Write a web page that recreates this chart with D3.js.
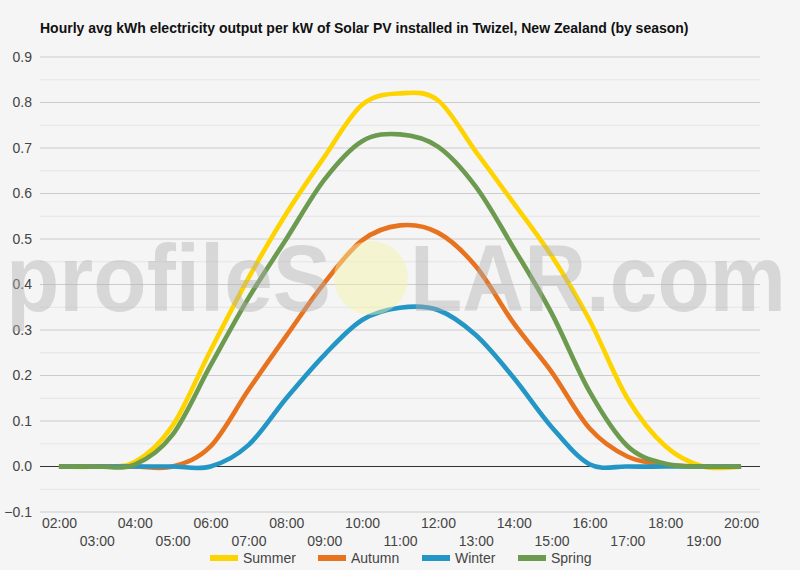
<!DOCTYPE html>
<html><head><meta charset="utf-8">
<script src="https://cdn.jsdelivr.net/npm/d3@7"></script>
<style>
html,body{margin:0;padding:0;background:#f5f5f5;}
svg{display:block;font-family:Arial,"Liberation Sans",sans-serif;}
</style></head>
<body><div id="chart"></div>
<script>
const title = "Hourly avg kWh electricity output per kW of Solar PV installed in Twizel, New Zealand (by season)";
const hours = ["02:00","03:00","04:00","05:00","06:00","07:00","08:00","09:00","10:00","11:00","12:00","13:00","14:00","15:00","16:00","17:00","18:00","19:00","20:00"];
const seriesNames = ["Summer","Autumn","Winter","Spring"];
const seriesColors = ["#fdd300","#e8731f","#2396c6","#6c9a4f"];
const summer = [0,0,0.01,0.09,0.255,0.414,0.556,0.68,0.795,0.82,0.805,0.692,0.579,0.463,0.322,0.15,0.045,0,0];
const autumn = [0,0,0,0,0.044,0.168,0.287,0.403,0.497,0.53,0.514,0.44,0.315,0.208,0.084,0.022,0.004,0,0];
const winter = [0,0,0,0,0,0.047,0.15,0.245,0.322,0.349,0.344,0.289,0.195,0.087,0.005,0,0,0,0];
const spring = [0,0,0.004,0.07,0.222,0.37,0.50,0.63,0.715,0.73,0.703,0.615,0.48,0.337,0.165,0.045,0.006,0,0];
const yTicks = [-0.1,0,0.1,0.2,0.3,0.4,0.5,0.6,0.7,0.8,0.9];
const yMinorTicks = [-0.05,0.05,0.15,0.25,0.35,0.45,0.55,0.65,0.75,0.85];

const W = 800, H = 570;
const svg = d3.select("#chart").append("svg").attr("width", W).attr("height", H);
svg.append("rect").attr("width", W).attr("height", H).attr("fill", "#f5f5f5");

const x = d3.scalePoint().domain(hours).range([40, 760]).padding(0.5);
const y = d3.scaleLinear().domain([-0.1, 0.9]).range([512, 57]);

svg.append("text").attr("x", 40).attr("y", 33).attr("font-size", 14).attr("font-weight", "bold")
  .attr("fill", "#111").text(title);

// grid
const g = svg.append("g");
g.selectAll("line.minor").data(yMinorTicks).join("line").attr("class","minor")
  .attr("x1", 40).attr("x2", 760).attr("y1", d => y(d)).attr("y2", d => y(d))
  .attr("stroke", "#e4e4e4").attr("stroke-width", 1);
g.selectAll("line.major").data(yTicks.filter(d => d !== 0)).join("line").attr("class","major")
  .attr("x1", 40).attr("x2", 760).attr("y1", d => y(d)).attr("y2", d => y(d))
  .attr("stroke", "#cccccc").attr("stroke-width", 1);

// y axis labels
const yAxis = d3.axisLeft(y).tickValues(yTicks).tickFormat(d3.format(".1f")).tickSize(0).tickPadding(8);
const ya = svg.append("g").attr("transform", "translate(40,0)").call(yAxis);
ya.select(".domain").remove();
ya.selectAll("text").attr("font-size", 14).attr("fill", "#444").attr("font-family", "Arial,'Liberation Sans',sans-serif");

// x axis labels (two rows)
const xAxis = d3.axisBottom(x).tickSize(0).tickPadding(0);
const xa = svg.append("g").attr("transform", "translate(0,512)").call(xAxis);
xa.select(".domain").remove();
xa.selectAll("text").attr("font-size", 14).attr("fill", "#444")
  .attr("font-family", "Arial,'Liberation Sans',sans-serif")
  .attr("dy", null)
  .attr("y", (d, i) => i % 2 === 0 ? 16 : 34);

// zero line
svg.append("line").attr("x1", 40).attr("x2", 760).attr("y1", y(0)).attr("y2", y(0))
  .attr("stroke", "#333").attr("stroke-width", 1);

// lines
const allSeries = [summer, autumn, winter, spring];
const line = d3.line().x((d, i) => x(hours[i])).y(d => y(d)).curve(d3.curveCardinal.tension(0));
svg.append("g").selectAll("path").data(allSeries).join("path")
  .attr("d", d => line(d)).attr("fill", "none")
  .attr("stroke", (d, i) => seriesColors[i]).attr("stroke-width", 4.6)
  .attr("stroke-linejoin", "round").attr("stroke-linecap", "butt");

// watermark
const wm = svg.append("g").attr("pointer-events", "none");
wm.append("circle").attr("cx", 371).attr("cy", 278).attr("r", 37).attr("fill", "#f7f3a6").attr("opacity", 0.45);
wm.append("text").attr("x", 6).attr("y", 311).attr("font-size", 94).attr("font-weight", "bold")
  .attr("font-family", "Arial,'Liberation Sans',sans-serif").attr("fill", "#b0b0b0").attr("opacity", 0.42)
  .attr("textLength", 325).attr("lengthAdjust", "spacingAndGlyphs").text("profileS");
wm.append("text").attr("x", 410).attr("y", 311).attr("font-size", 94).attr("font-weight", "bold")
  .attr("font-family", "Arial,'Liberation Sans',sans-serif").attr("fill", "#b0b0b0").attr("opacity", 0.42)
  .attr("textLength", 376).attr("lengthAdjust", "spacingAndGlyphs").text("LAR.com");

// legend
const legX = [210, 318, 422, 518];
const leg = svg.append("g").selectAll("g").data(seriesNames).join("g")
  .attr("transform", (d, i) => `translate(${legX[i]},558)`);
leg.append("line").attr("x1", 0).attr("x2", 28).attr("y1", 0).attr("y2", 0)
  .attr("stroke", (d, i) => seriesColors[i]).attr("stroke-width", 6);
leg.append("text").attr("x", 33).attr("y", 5).attr("font-size", 14).attr("fill", "#444").text(d => d);
</script>
</body></html>
